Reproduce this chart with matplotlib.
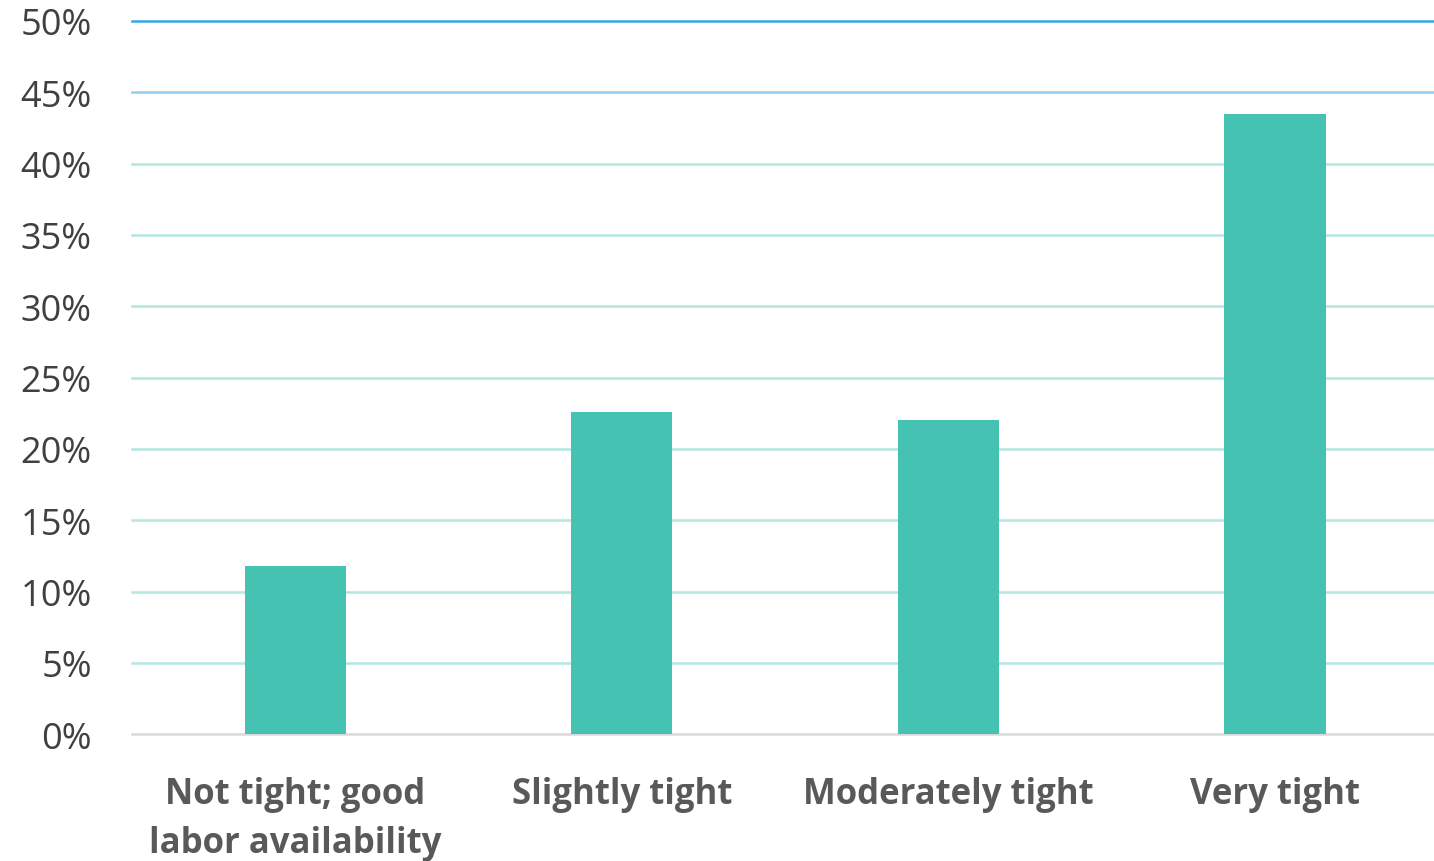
import matplotlib.pyplot as plt
from matplotlib.ticker import PercentFormatter

categories = ['Not tight; good\nlabor availability', 'Slightly tight',
              'Moderately tight', 'Very tight']
shares = [11.8, 22.6, 22.0, 43.5]
yticks = [0, 5, 10, 15, 20, 25, 30, 35, 40, 45, 50]
grid_colors = ['#D9D9D9'] + ['#B3E6DF'] * 8 + ['#8FD0F0', '#2EA9E8']

plt.rcParams['font.family'] = ['Open Sans', 'DejaVu Sans']

fig = plt.figure(figsize=(14.34, 8.62), dpi=100)
ax = fig.add_axes([0.092, 0.147, 0.911, 0.8275])

x = range(len(categories))
ax.bar(x, shares, width=0.31, color='#45C2B1', zorder=3)

ax.set_xlim(-0.5, len(categories) - 0.5)
ax.set_ylim(0, 50)
ax.set_yticks(yticks)
ax.yaxis.set_major_formatter(PercentFormatter(decimals=0))
ax.set_xticks(list(x))
ax.set_xticklabels(categories, fontsize=25, fontweight='bold', color='#595959',
                   linespacing=1.5)
ax.tick_params(axis='x', length=0, pad=30)
ax.tick_params(axis='y', length=0, pad=29, labelsize=26, labelcolor='#404040')

for s in ax.spines.values():
    s.set_visible(False)

# horizontal gridlines: top two blue, baseline gray, rest light teal
for v, c in zip(yticks, grid_colors):
    ax.axhline(v, color=c, linewidth=1.8, zorder=1, clip_on=False)

fig.savefig('out.png', dpi=100)
